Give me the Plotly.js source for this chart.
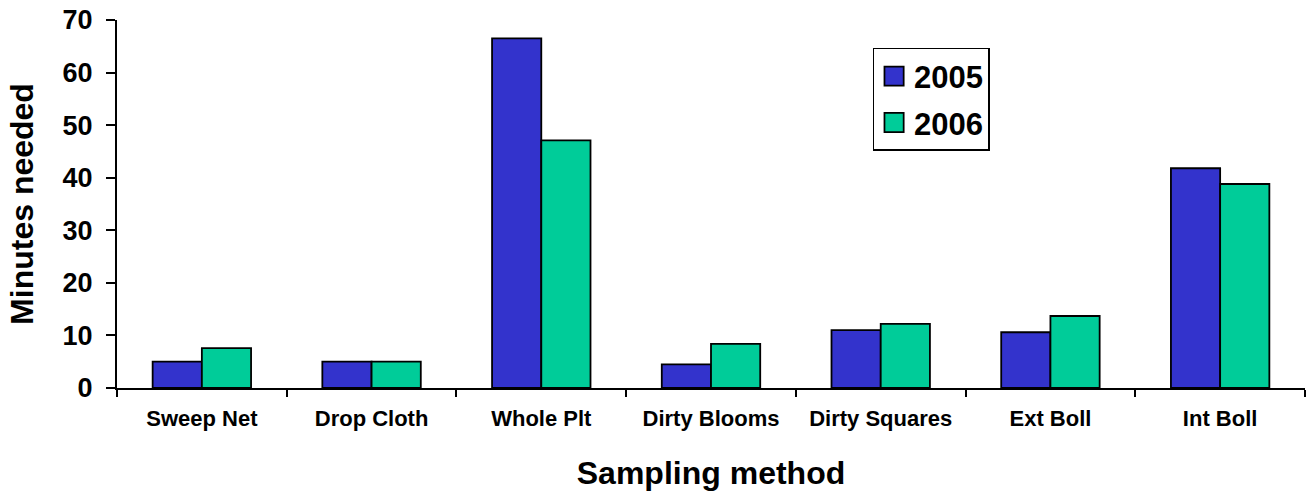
<!DOCTYPE html>
<html>
<head>
<meta charset="utf-8">
<script src="https://cdn.plot.ly/plotly-3.0.1.min.js"></script>
<style>html,body{margin:0;padding:0;background:#fff;}#chart{width:1307px;height:491px;}</style>
</head>
<body>
<div id="chart"></div>
<script>
const categories = ["Sweep Net", "Drop Cloth", "Whole Plt", "Dirty Blooms", "Dirty Squares", "Ext Boll", "Int Boll"];
const values2005 = [5.0, 5.0, 66.5, 4.5, 11.0, 10.6, 41.8];
const values2006 = [7.6, 5.0, 47.1, 8.4, 12.2, 13.7, 38.8];
const seriesNames = ["2005", "2006"];
const yTicks = [0, 10, 20, 30, 40, 50, 60, 70];

const FONT = "Liberation Sans, Arial, Helvetica, sans-serif";

const traces = [
  {
    type: "bar", name: seriesNames[0], x: categories, y: values2005, legendgroup: "a",
    marker: {color: "#3333CC", line: {color: "#000000", width: 1.8}}
  },
  {
    type: "bar", name: seriesNames[1], x: categories, y: values2006, legendgroup: "b",
    marker: {color: "#00CC99", line: {color: "#000000", width: 1.8}}
  }
];

const layout = {
  width: 1307, height: 491,
  margin: {l: 117, r: 2, t: 20, b: 103, pad: 0},
  paper_bgcolor: "#ffffff", plot_bgcolor: "#ffffff",
  barmode: "group", bargap: 0.42, bargroupgap: 0,
  font: {family: FONT, color: "#000000"},
  showlegend: true,
  legend: {
    x: 0.636, y: 0.924, xanchor: "left", yanchor: "top",
    bordercolor: "#000000", borderwidth: 1.5, bgcolor: "#ffffff",
    font: {family: FONT, size: 31, weight: "bold", color: "#000000"},
    tracegroupgap: 3, itemwidth: 30
  },
  xaxis: {
    type: "category", range: [-0.5, 6.5],
    showline: true, linecolor: "#000000", linewidth: 2,
    ticks: "outside", tickson: "boundaries", ticklen: 7, tickwidth: 2, tickcolor: "#000000",
    ticklabelstandoff: 10,
    showgrid: false, zeroline: false,
    tickfont: {family: FONT, size: 22, weight: "bold", color: "#000000"},
    title: {text: "Sampling method", font: {family: FONT, size: 32, weight: "bold", color: "#000000"}, standoff: 43},
    automargin: false
  },
  yaxis: {
    range: [0, 70], tickvals: yTicks, ticktext: yTicks.map(String),
    showline: true, linecolor: "#000000", linewidth: 2,
    ticks: "outside", ticklen: 9, tickwidth: 2, tickcolor: "#000000",
    ticklabelstandoff: 8,
    showgrid: false, zeroline: false,
    tickfont: {family: FONT, size: 27, weight: "bold", color: "#000000"},
    title: {text: "Minutes needed", font: {family: FONT, size: 32, weight: "bold", color: "#000000"}, standoff: 19},
    automargin: false
  }
};

Plotly.newPlot("chart", traces, layout, {displayModeBar: false, staticPlot: true}).then(function () {
  document.querySelectorAll("#chart .legend .legendpoints path").forEach(function (p) {
    var t = p.getAttribute("transform") || "";
    p.setAttribute("transform", t + " scale(1.6)");
    p.style.strokeWidth = "1.1px";
  });
});
</script>
</body>
</html>
